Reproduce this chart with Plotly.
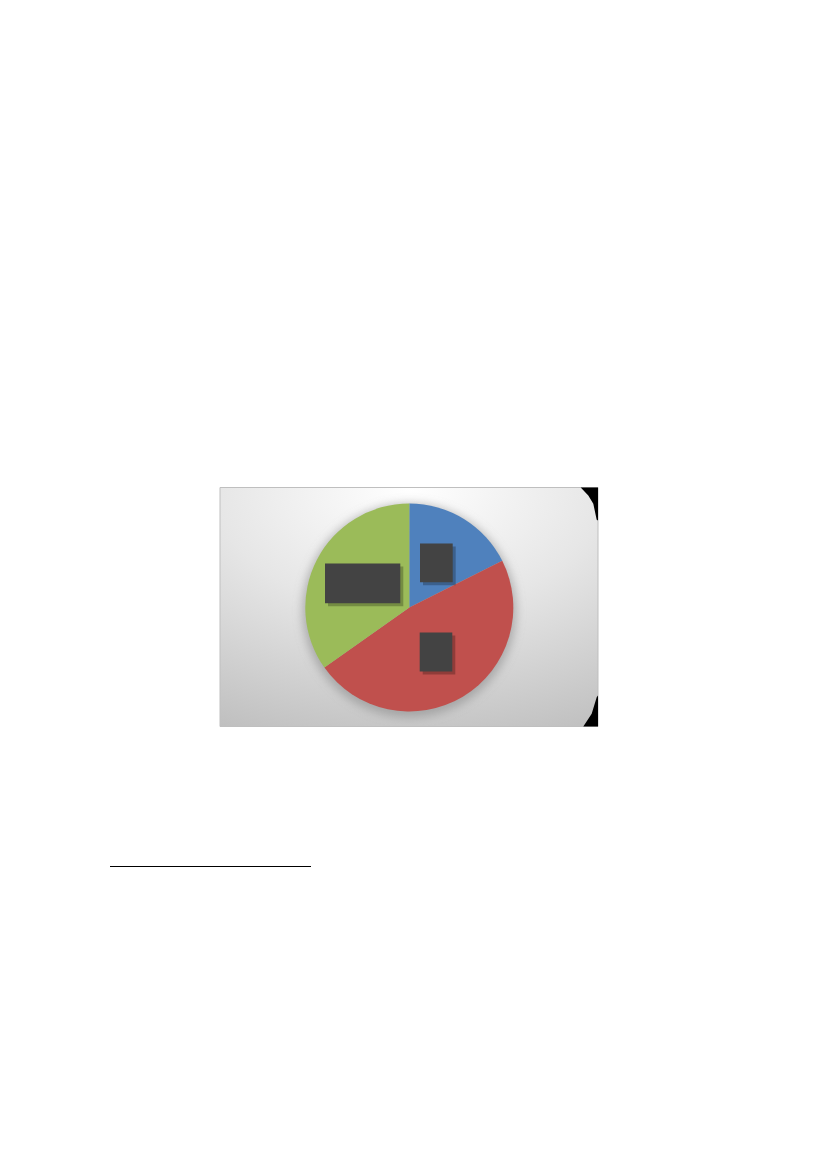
import base64
import plotly.graph_objects as go

# Données (parts en %)
categories = ["Catégorie 1", "Catégorie 2", "Catégorie 3"]
values = [17.6, 47.6, 34.8]
colors = ["#4F81BD", "#C0504D", "#9BBB59"]

W, H = 827, 1169
# marge par défaut du <body> de la page html
OFF_X, OFF_Y = 8, 7.5


def px(x):
    return (x - OFF_X) / W


def py(y):
    return 1 - (y - OFF_Y) / H


# Cadre du graphique (pixels de la page)
box_x0, box_y0, box_x1, box_y1 = 220, 487, 598, 726
cx, cy, r = 409.3, 607, 104

# Fond en dégradé radial + ombre autour du camembert (SVG en image)
bw, bh = box_x1 - box_x0, box_y1 - box_y0
svg = f"""<svg xmlns='http://www.w3.org/2000/svg' width='{bw}' height='{bh}' viewBox='0 0 {bw} {bh}'>
<defs>
<radialGradient id='g' cx='50%' cy='0%' r='115%' fx='50%' fy='0%'>
<stop offset='0%' stop-color='#FFFFFF'/>
<stop offset='45%' stop-color='#E6E6E6'/>
<stop offset='100%' stop-color='#BDBDBD'/>
</radialGradient>
<filter id='b' x='-30%' y='-30%' width='160%' height='160%'><feGaussianBlur stdDeviation='5'/></filter>
</defs>
<rect width='{bw}' height='{bh}' fill='url(#g)'/>
<circle cx='{cx - box_x0}' cy='{cy - box_y0 + 3}' r='{r + 3}' fill='#8C8C8C' fill-opacity='0.6' filter='url(#b)'/>
</svg>"""
svg_uri = "data:image/svg+xml;base64," + base64.b64encode(svg.encode()).decode()

fig = go.Figure()

fig.add_trace(go.Pie(
    labels=categories,
    values=values,
    marker=dict(colors=colors, line=dict(width=0)),
    sort=False,
    direction="clockwise",
    rotation=0,
    textinfo="none",
    hoverinfo="label+percent",
    showlegend=False,
    domain=dict(x=[px(cx - r), px(cx + r)], y=[py(cy + r), py(cy - r)]),
))

shapes = []

# Bordure du cadre
shapes.append(dict(type="rect", xref="paper", yref="paper",
                   x0=px(box_x0), x1=px(box_x1), y0=py(box_y1), y1=py(box_y0),
                   line=dict(color="#BFBFBF", width=1), fillcolor="rgba(0,0,0,0)",
                   layer="above"))

# Coins noirs à droite du cadre
top_corner = [(580.7, 487), (598, 487), (598, 520), (596.7, 519.3),
              (593.3, 503.3), (588.3, 495)]
bot_corner = [(598, 695), (598, 726), (583.3, 726), (591.7, 713.3), (596.7, 696.7)]
for pts in (top_corner, bot_corner):
    path = "M " + " L ".join(f"{px(x):.5f},{py(y):.5f}" for x, y in pts) + " Z"
    shapes.append(dict(type="path", xref="paper", yref="paper", path=path,
                       fillcolor="#000000", line=dict(width=0), layer="above"))

# Étiquettes masquées (boîtes sombres)
label_boxes = [(420, 543, 452.7, 581.7), (419.7, 632, 452.3, 671), (325, 563, 400.3, 602.7)]
for x0, y0, x1, y1 in label_boxes:
    shapes.append(dict(type="rect", xref="paper", yref="paper",
                       x0=px(x0 + 3), x1=px(x1 + 3), y0=py(y1 + 3), y1=py(y0 + 3),
                       fillcolor="rgba(0,0,0,0.25)", line=dict(width=0), layer="above"))
    shapes.append(dict(type="rect", xref="paper", yref="paper",
                       x0=px(x0), x1=px(x1), y0=py(y1), y1=py(y0),
                       fillcolor="#434343", line=dict(width=0), layer="above"))

# Trait de note de bas de page
shapes.append(dict(type="line", xref="paper", yref="paper",
                   x0=px(110), x1=px(311), y0=py(866), y1=py(866),
                   line=dict(color="#000000", width=1)))

fig.update_layout(
    width=W,
    height=H,
    margin=dict(l=0, r=0, t=0, b=0),
    paper_bgcolor="#FFFFFF",
    plot_bgcolor="#FFFFFF",
    shapes=shapes,
    images=[dict(source=svg_uri, xref="paper", yref="paper",
                 x=px(box_x0), y=py(box_y0), sizex=bw / W, sizey=bh / H,
                 xanchor="left", yanchor="top", sizing="stretch", layer="below")],
)

fig.write_html("out.html")
